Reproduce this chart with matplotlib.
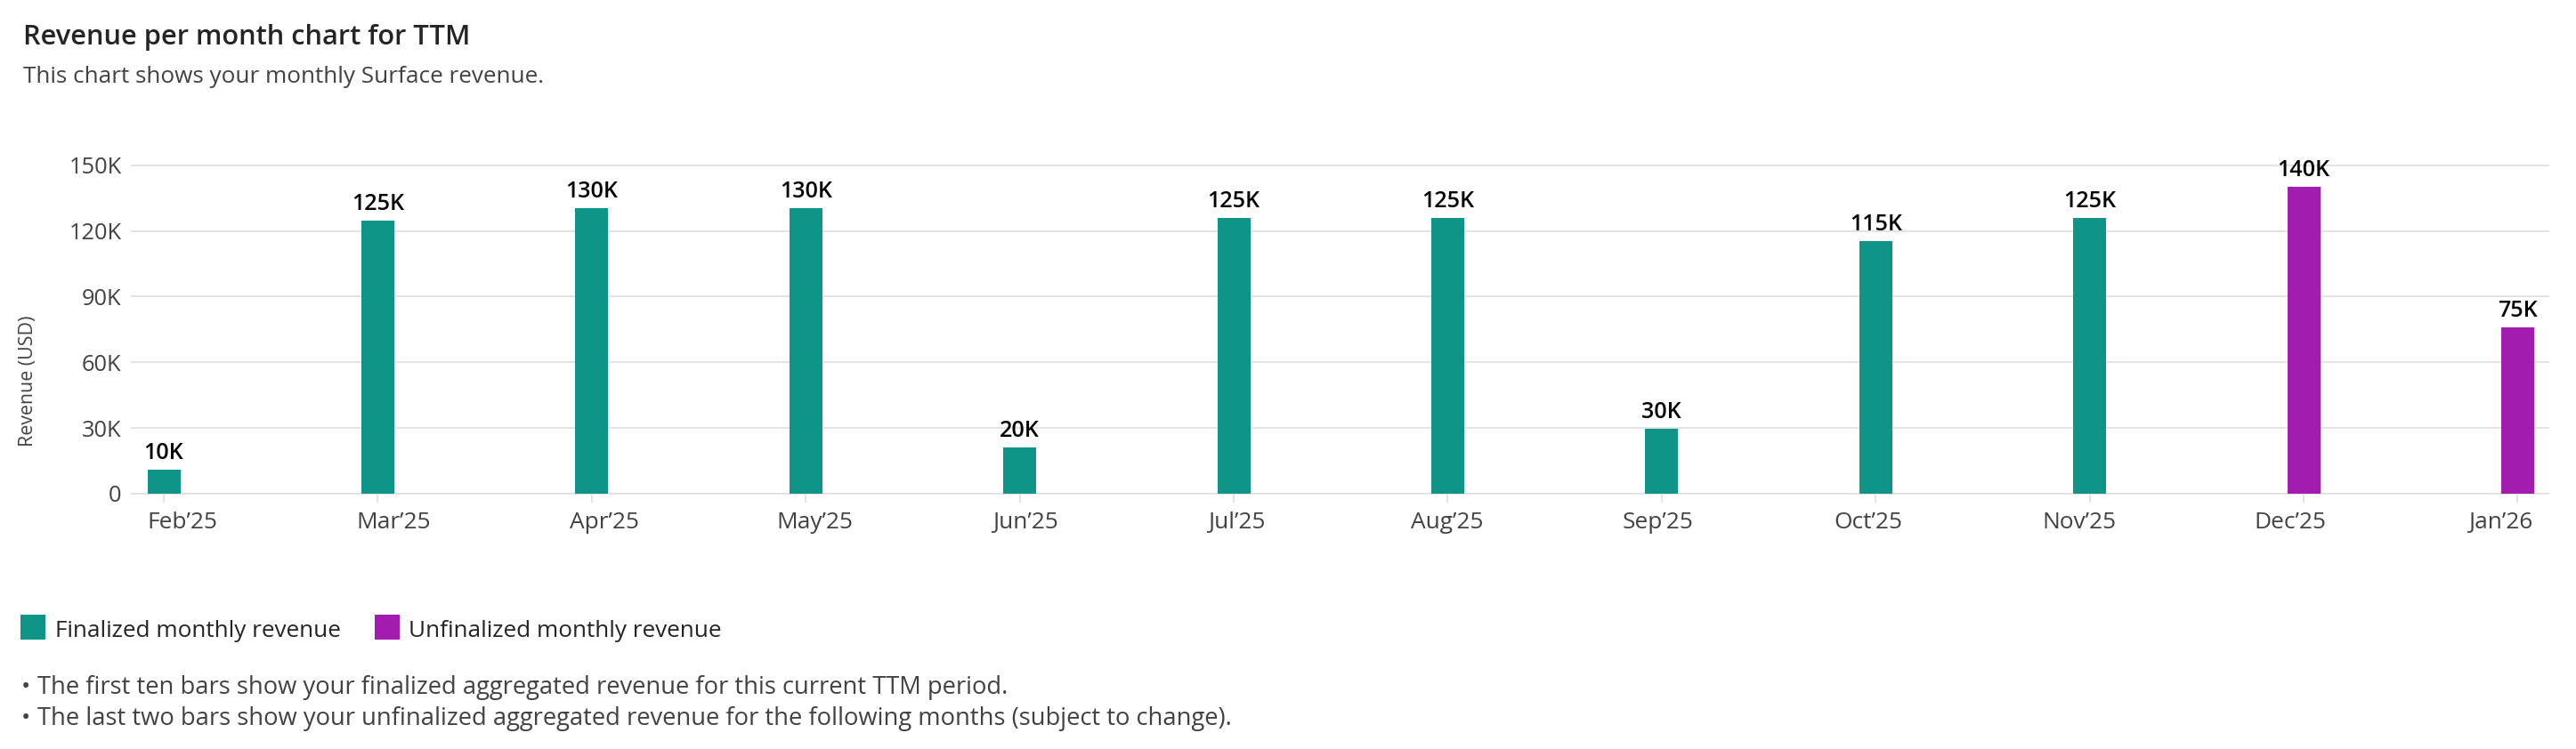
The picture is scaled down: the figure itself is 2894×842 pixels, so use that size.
import matplotlib
matplotlib.use("Agg")
import matplotlib.pyplot as plt
from matplotlib.patches import Rectangle
from matplotlib.transforms import ScaledTranslation

plt.rcParams["font.family"] = ["Open Sans", "DejaVu Sans"]

# ---------------- data ----------------
months = ["Feb’25", "Mar’25", "Apr’25", "May’25", "Jun’25", "Jul’25",
          "Aug’25", "Sep’25", "Oct’25", "Nov’25", "Dec’25", "Jan’26"]
revenue = [10800, 124800, 130500, 130500, 21100, 125800,
           125800, 29600, 115300, 125800, 140000, 75800]
value_labels = ["10K", "125K", "130K", "130K", "20K", "125K",
                "125K", "30K", "115K", "125K", "140K", "75K"]
status = ["Finalized"] * 10 + ["Unfinalized"] * 2
y_ticks = [0, 30000, 60000, 90000, 120000, 150000]
y_tick_labels = ["0", "30K", "60K", "90K", "120K", "150K"]
legend_keys = ["Finalized", "Unfinalized"]
legend_labels = ["Finalized monthly revenue", "Unfinalized monthly revenue"]
title = "Revenue per month chart for TTM"
subtitle = "This chart shows your monthly Surface revenue."
y_label = "Revenue (USD)"
notes = ["The first ten bars show your finalized aggregated revenue for this current TTM period.",
         "The last two bars show your unfinalized aggregated revenue for the following months (subject to change)."]

# ---------------- style ----------------
COLORS = {"Finalized": "#0F9488", "Unfinalized": "#A21CAF"}
GRID = "#E1E1E1"
TXT_DARK = "#242424"
TXT = "#424242"

W, H, DPI = 2894, 842, 100
fig = plt.figure(figsize=(W / DPI, H / DPI), dpi=DPI, facecolor="white")
renderer = fig.canvas.get_renderer()


def fx(px):
    return px / W


def fy(py):
    return 1 - py / H


def fit_size(sample, target_px, weight="normal", base=20.0):
    t = fig.text(0, 0, sample, fontsize=base, fontweight=weight)
    w = t.get_window_extent(renderer=renderer).width
    t.remove()
    return base * target_px / w


# header
fig.text(fx(26), fy(50), title, fontsize=fit_size(title, 504, "semibold"),
         fontweight="semibold", color=TXT_DARK, ha="left", va="baseline")
fig.text(fx(26), fy(93), subtitle, fontsize=fit_size(subtitle, 583),
         color=TXT, ha="left", va="baseline")

# axes
ax_l, ax_r, ax_t, ax_b = 147, 2864, 185.7, 555
ax = fig.add_axes([fx(ax_l), fy(ax_b), (ax_r - ax_l) / W, (ax_b - ax_t) / H])
x = list(range(len(months)))
bar_w = 0.154
ax.bar(x, revenue, width=bar_w, color=[COLORS[s] for s in status], zorder=2)
ax.set_xlim(-0.154, 11.148)
ax.set_ylim(0, 150000)
for s in ax.spines.values():
    s.set_visible(False)
ax.hlines(y_ticks, -0.154, 11.148, colors=GRID, linewidth=1.3, zorder=1, clip_on=False)

tick_fs = fit_size("150K", 59)
ax.set_yticks(y_ticks, y_tick_labels)
ax.tick_params(axis="y", length=0, pad=7.5, labelsize=tick_fs, labelcolor=TXT)

xtick_fs = fit_size("May’25", 86)
ax.set_xticks(x, months)
ax.tick_params(axis="x", length=7.5, width=1.3, color=GRID, pad=7, labelsize=xtick_fs,
               labelcolor=TXT)
n = len(months)
for i, lbl in enumerate(ax.get_xticklabels()):
    shift_px = 21 - 40 * i / (n - 1)
    lbl.set_transform(lbl.get_transform() + ScaledTranslation(shift_px / DPI, 0, fig.dpi_scale_trans))

val_fs = fit_size("130K", 59, "semibold")
for xi, v, lab in zip(x, revenue, value_labels):
    ax.annotate(lab, (xi, v), xytext=(0, 12 * 72 / DPI), textcoords="offset points",
                ha="center", va="baseline", fontsize=val_fs, fontweight="semibold",
                color="#000000", annotation_clip=False)

fig.text(fx(32), fy(428), y_label, rotation=90, ha="center", va="center",
         fontsize=fit_size(y_label, 147), color=TXT)

# legend
leg_fs = fit_size(legend_labels[0], 321)
leg_sq = [23, 421]
leg_tx = [62, 459]
for key, lab, sx, tx in zip(legend_keys, legend_labels, leg_sq, leg_tx):
    fig.add_artist(Rectangle((fx(sx), fy(719)), 28 / W, 28 / H, transform=fig.transFigure,
                             facecolor=COLORS[key], edgecolor="none"))
    fig.text(fx(tx), fy(716), lab, fontsize=leg_fs, color=TXT_DARK, ha="left", va="baseline")

# notes
note_fs = 0.5 * (fit_size(notes[0], 1114) + fit_size(notes[1], 1311))
for note, base in zip(notes, [780, 815]):
    fig.text(fx(29), fy(base), "•", fontsize=note_fs, color=TXT, ha="center", va="baseline")
    fig.text(fx(42), fy(base), note, fontsize=note_fs, color=TXT, ha="left", va="baseline")

fig.savefig("out.png", dpi=DPI, facecolor="white")
